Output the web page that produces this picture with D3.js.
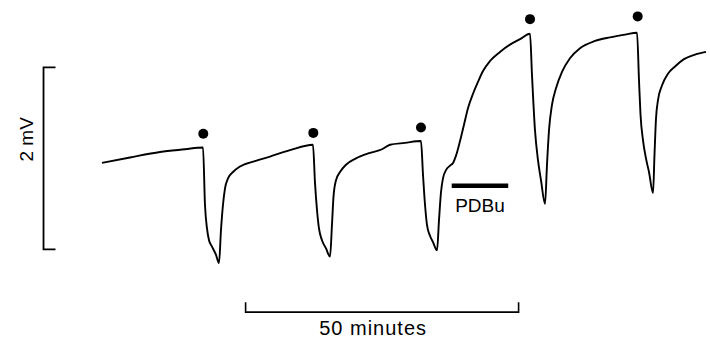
<!DOCTYPE html>
<html>
<head>
<meta charset="utf-8">
<script src="https://cdn.jsdelivr.net/npm/d3@7"></script>
<style>
  body { margin: 0; background: #fff; }
  text { font-family: "Liberation Sans", Arial, sans-serif; fill: #000; }
</style>
</head>
<body>
<script>
'use strict';
// membrane potential trace, time in minutes, potential change in mV
const traceTime = [0, 5.13, 10.62, 15.20, 18.50, 18.86, 19.23, 19.60, 20.15, 20.88, 21.43,
  21.79, 22.16, 22.53, 23.08, 23.99, 25.27, 28.02, 30.77, 34.43, 38.64,
  39.01, 39.38, 39.74, 40.29, 41.03, 41.76, 42.12, 42.40, 42.86, 43.59, 44.69,
  46.52, 49.08, 51.28, 52.75, 55.49, 58.42,
  58.79, 59.16, 59.52, 60.07, 60.62, 61.36, 61.72, 62.09, 62.45, 63.00, 63.74,
  64.29, 64.84, 65.57, 66.30, 67.03, 67.95, 68.86, 69.78, 71.06, 72.89, 74.73,
  76.56, 78.39,
  78.75, 79.30, 79.85, 80.40, 81.14, 81.50, 81.87, 82.42, 83.15, 84.25, 85.71,
  87.55, 90.29, 93.04, 95.79, 97.99,
  98.35, 98.63, 99.08, 99.63, 100.18, 100.92, 101.19, 101.47, 101.83, 102.56,
  103.66, 104.95, 106.59, 108.61, 110.62];
const traceMv = [-0.01, 0.05, 0.11, 0.14, 0.16, -0.47, -0.73, -0.86, -0.93, -1.02, -1.11,
  -0.75, -0.47, -0.29, -0.18, -0.11, -0.05, 0.01, 0.06, 0.13, 0.19,
  -0.23, -0.53, -0.73, -0.86, -0.95, -1.04, -0.69, -0.38, -0.20, -0.11, -0.03,
  0.04, 0.10, 0.14, 0.19, 0.21, 0.23,
  -0.14, -0.47, -0.69, -0.81, -0.88, -0.97, -0.64, -0.33, -0.18, -0.09, -0.04,
  -0.01, 0.07, 0.23, 0.41, 0.59, 0.75, 0.88, 1.00, 1.11, 1.21, 1.29,
  1.35, 1.41,
  0.96, 0.35, 0.02, -0.20, -0.46, -0.03, 0.35, 0.63, 0.81, 0.99, 1.14,
  1.25, 1.33, 1.37, 1.40, 1.42,
  0.90, 0.52, 0.24, 0.04, -0.11, -0.34, 0.08, 0.48, 0.68, 0.84,
  0.97, 1.05, 1.13, 1.18, 1.21];

// stimulus markers
const stimTime = [18.55, 38.70, 58.42, 78.39, 98.11];
const stimMv = [0.31, 0.32, 0.38, 1.57, 1.60];

// PDBu application
const drugLabel = "PDBu";
const drugStart = 64.05, drugEnd = 74.4, drugMv = -0.26;

// calibration bars
const voltBar = { time: -10.71, from: -0.96, to: 1.04, label: "2 mV" };
const timeBar = { mv: -1.65, from: 26.3, to: 76.3, label: "50 minutes" };

(function() {
  const width = 710, height = 345;
  const svg = d3.select('body').append('svg')
    .attr('width', width)
    .attr('height', height);

  // 50 min = 273 px, 2 mV = 182 px
  const x = d3.scaleLinear().domain([0, 50]).range([102, 375]);
  const y = d3.scaleLinear().domain([0, 2]).range([162, -20]);

  const pts = traceTime.map((t, i) => [t, traceMv[i]]);
  const line = d3.line()
    .x(d => x(d[0]))
    .y(d => y(d[1]))
    .curve(d3.curveMonotoneX);

  svg.append('path')
    .datum(pts)
    .attr('d', line)
    .attr('fill', 'none')
    .attr('stroke', '#000')
    .attr('stroke-width', 1.9)
    .attr('stroke-linejoin', 'round');

  svg.selectAll('.dot')
    .data(stimTime)
    .enter()
    .append('circle')
      .attr('class', 'dot')
      .attr('cx', d => x(d))
      .attr('cy', (d, i) => y(stimMv[i]))
      .attr('r', 5)
      .attr('fill', '#000');

  // drug bar + label
  svg.append('line')
    .attr('x1', x(drugStart)).attr('x2', x(drugEnd))
    .attr('y1', y(drugMv)).attr('y2', y(drugMv))
    .attr('stroke', '#000')
    .attr('stroke-width', 4.5);
  svg.append('text')
    .attr('x', (x(drugStart) + x(drugEnd)) / 2)
    .attr('y', y(drugMv) + 26)
    .attr('text-anchor', 'middle')
    .style('font-size', '19px')
    .text(drugLabel);

  // voltage calibration bar
  const vx = x(voltBar.time);
  svg.append('path')
    .attr('d', `M${vx + 12},${y(voltBar.to)}H${vx}V${y(voltBar.from)}H${vx + 12}`)
    .attr('fill', 'none')
    .attr('stroke', '#000')
    .attr('stroke-width', 1.8);
  svg.append('text')
    .attr('transform', `translate(${vx - 11},${(y(voltBar.to) + y(voltBar.from)) / 2 - 19})rotate(-90)`)
    .attr('text-anchor', 'middle')
    .style('font-size', '19px')
    .text(voltBar.label);

  // time calibration bar
  const ty = y(timeBar.mv);
  svg.append('path')
    .attr('d', `M${x(timeBar.from)},${ty - 10}V${ty}H${x(timeBar.to)}V${ty - 10}`)
    .attr('fill', 'none')
    .attr('stroke', '#000')
    .attr('stroke-width', 1.6);
  svg.append('text')
    .attr('x', (x(timeBar.from) + x(timeBar.to)) / 2 - 9)
    .attr('y', ty + 23)
    .attr('text-anchor', 'middle')
    .style('font-size', '20px')
    .style('letter-spacing', '1px')
    .text(timeBar.label);
})();
</script>
</body>
</html>
